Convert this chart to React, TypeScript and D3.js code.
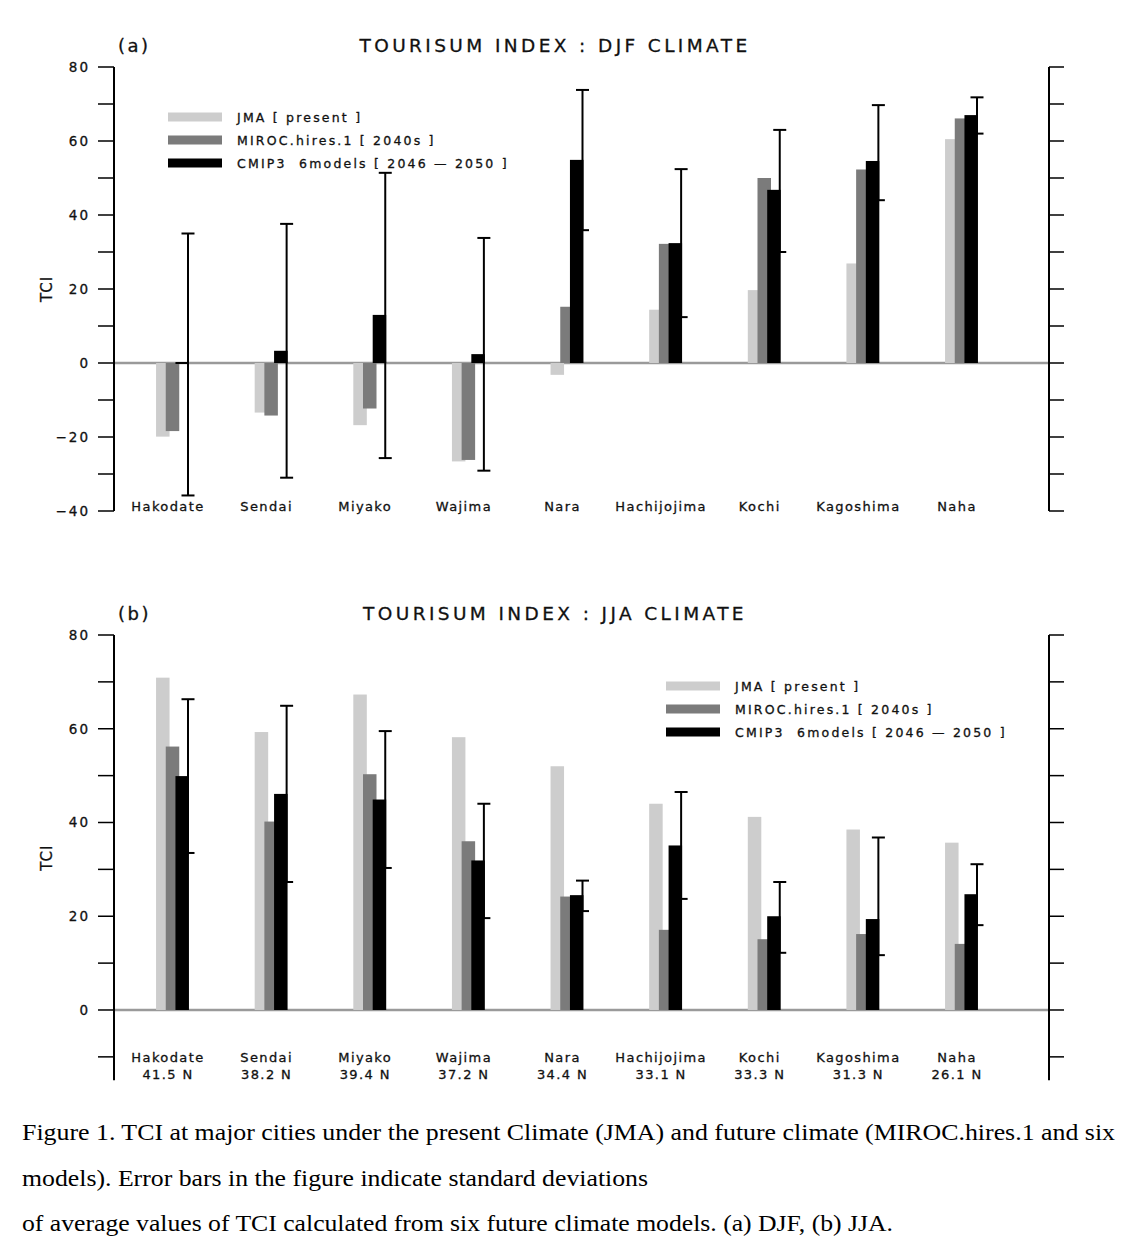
import * as d3 from 'd3'

// ---- data ----
const cities = ['Hakodate', 'Sendai', 'Miyako', 'Wajima', 'Nara', 'Hachijojima', 'Kochi', 'Kagoshima', 'Naha']
const latitudes = ['41.5 N', '38.2 N', '39.4 N', '37.2 N', '34.4 N', '33.1 N', '33.3 N', '31.3 N', '26.1 N']
const seriesNames = ['JMA [ present ]', 'MIROC.hires.1 [ 2040s ]', 'CMIP3  6models [ 2046 \u2014 2050 ]']

// (a) DJF
const djfJma = [-19.9, -13.4, -16.8, -26.6, -3.2, 14.4, 19.7, 26.9, 60.5]
const djfMiroc = [-18.4, -14.2, -12.3, -26.2, 15.2, 32.2, 50.0, 52.3, 66.1]
const djfCmip = [0, 3.3, 13.0, 2.4, 54.9, 32.4, 46.8, 54.6, 67.0]
const djfCmipHigh = [35.0, 37.6, 51.4, 33.8, 73.8, 52.4, 63.0, 69.7, 71.8]
const djfCmipLow = [-35.8, -31.0, -25.7, -29.1, 35.9, 12.4, 30.0, 44.0, 62.0]
const djfTicks = [-40, -30, -20, -10, 0, 10, 20, 30, 40, 50, 60, 70, 80]
const djfTickLabels = [-40, -20, 0, 20, 40, 60, 80]

// (b) JJA
const jjaJma = [70.9, 59.3, 67.3, 58.2, 52.0, 44.0, 41.2, 38.5, 35.7]
const jjaMiroc = [56.2, 40.2, 50.3, 36.0, 24.2, 17.1, 15.1, 16.2, 14.1]
const jjaCmip = [49.9, 46.1, 44.9, 31.9, 24.5, 35.1, 20.0, 19.4, 24.7]
const jjaCmipHigh = [66.3, 64.9, 59.5, 44.0, 27.6, 46.5, 27.3, 36.8, 31.1]
const jjaCmipLow = [33.5, 27.3, 30.3, 19.6, 21.1, 23.7, 12.2, 11.7, 18.1]
const jjaTicks = [-10, 0, 10, 20, 30, 40, 50, 60, 70, 80]
const jjaTickLabels = [0, 20, 40, 60, 80]

const caption = [
  'Figure 1. TCI at major cities under the present Climate (JMA) and future climate (MIROC.hires.1 and six',
  'models). Error bars in the figure indicate standard deviations',
  'of average values of TCI calculated from six future climate models. (a) DJF, (b) JJA.',
]

const colors = ['#cdcdcd', '#7b7b7b', '#000000']
const font = '"DejaVu Sans", sans-serif'
const ink = { fill: '#111', stroke: '#111', strokeWidth: 0.3 }
const AX_L = 114
const AX_R = 1049

interface PanelProps {
  tag: string
  title: string
  jma: number[]
  miroc: number[]
  cmip: number[]
  hi: number[]
  lo: number[]
  domain: [number, number]
  range: [number, number]
  ticks: number[]
  tickLabels: number[]
  titleY: number
  legendX: number
  legendY: number
  labelY: number
  showLat: boolean
}

function Panel(p: PanelProps) {
  const y = d3.scaleLinear().domain(p.domain).range(p.range)
  const x = d3.scalePoint<string>().domain(cities).range([168, 957])
  const y0 = y(0)
  const barW = 13.5
  const offsets = [-5.2, 4.5, 14.2]
  const series = [p.jma, p.miroc, p.cmip]
  const fmt = (v: number) => (v < 0 ? '\u2212' + Math.abs(v) : String(v))

  return (
    <g>
      {/* titles */}
      <text x={118} y={p.titleY} fontFamily={font} fontSize={18} letterSpacing={2.5} {...ink}>{p.tag}</text>
      <text x={555} y={p.titleY} textAnchor="middle" fontFamily={font} fontSize={18.5} letterSpacing={3.4} {...ink}>{p.title}</text>

      {/* zero line */}
      <line x1={AX_L} x2={AX_R} y1={y0} y2={y0} stroke="#9a9a9a" strokeWidth={2.5} />

      {/* bars */}
      {series.map((vals, s) => (
        <g key={s} fill={colors[s]}>
          {vals.map((v, i) => {
            const cx = x(cities[i])! + offsets[s]
            const top = Math.min(y(v), y0)
            const h = Math.max(Math.abs(y(v) - y0), 2)
            return <rect key={i} x={cx - barW / 2} y={v === 0 ? y0 - 1 : top} width={barW} height={h} />
          })}
        </g>
      ))}

      {/* error bars */}
      <g stroke="#000" strokeWidth={2}>
        {p.cmip.map((_, i) => {
          const ex = x(cities[i])! + 20
          return (
            <g key={i}>
              <line x1={ex} x2={ex} y1={y(p.hi[i])} y2={y(p.lo[i])} />
              <line x1={ex - 6.5} x2={ex + 6.5} y1={y(p.hi[i])} y2={y(p.hi[i])} />
              <line x1={ex - 6.5} x2={ex + 6.5} y1={y(p.lo[i])} y2={y(p.lo[i])} />
            </g>
          )
        })}
      </g>

      {/* left axis */}
      <line x1={AX_L} x2={AX_L} y1={p.range[1]} y2={p.range[0]} stroke="#000" strokeWidth={2} />
      {p.ticks.map(t => (
        <line key={t} x1={AX_L - 16} x2={AX_L} y1={y(t)} y2={y(t)} stroke="#000" strokeWidth={1.5} />
      ))}
      {p.tickLabels.map(t => (
        <text key={t} x={90} y={y(t)} dy="0.36em" textAnchor="end" fontFamily={font} fontSize={13.5} letterSpacing={2} {...ink}>
          {fmt(t)}
        </text>
      ))}

      {/* right axis */}
      <line x1={AX_R} x2={AX_R} y1={p.range[1]} y2={p.range[0]} stroke="#000" strokeWidth={2} />
      {p.ticks.map(t => (
        <line key={t} x1={AX_R} x2={AX_R + 15} y1={y(t)} y2={y(t)} stroke="#000" strokeWidth={1.5} />
      ))}

      {/* y label */}
      <text
        transform={`translate(52,${(p.range[0] + p.range[1]) / 2}) rotate(-90)`}
        textAnchor="middle"
        fontFamily={font}
        fontSize={15}
        letterSpacing={1}
        {...ink}
      >
        TCI
      </text>

      {/* city labels */}
      {cities.map((c, i) => (
        <g key={c} fontFamily={font} fontSize={13} letterSpacing={1.4} textAnchor="middle" {...ink}>
          <text x={x(c)!} y={p.labelY}>{c}</text>
          {p.showLat && <text x={x(c)!} y={p.labelY + 17}>{latitudes[i]}</text>}
        </g>
      ))}

      {/* legend */}
      {seriesNames.map((n, s) => (
        <g key={n}>
          <rect x={p.legendX} y={p.legendY + s * 23 - 4.5} width={54} height={9} fill={colors[s]} />
          <text
            x={p.legendX + 69}
            y={p.legendY + s * 23}
            dy="0.36em"
            fontFamily={font}
            fontSize={12.5}
            letterSpacing={2.2}
            style={{ whiteSpace: 'pre' }}
            {...ink}
          >
            {n}
          </text>
        </g>
      ))}
    </g>
  )
}

export default function App() {
  return (
    <svg
      width={1140}
      height={1259}
      style={{ position: 'absolute', left: 0, top: 0, background: '#fff' }}
    >
      <Panel
        tag="(a)"
        title="TOURISUM INDEX : DJF CLIMATE"
        jma={djfJma}
        miroc={djfMiroc}
        cmip={djfCmip}
        hi={djfCmipHigh}
        lo={djfCmipLow}
        domain={[-40, 80]}
        range={[511, 67]}
        ticks={djfTicks}
        tickLabels={djfTickLabels}
        titleY={52}
        legendX={168}
        legendY={117}
        labelY={511}
        showLat={false}
      />
      <Panel
        tag="(b)"
        title="TOURISUM INDEX : JJA CLIMATE"
        jma={jjaJma}
        miroc={jjaMiroc}
        cmip={jjaCmip}
        hi={jjaCmipHigh}
        lo={jjaCmipLow}
        domain={[-15, 80]}
        range={[1080.3, 635]}
        ticks={jjaTicks}
        tickLabels={jjaTickLabels}
        titleY={620}
        legendX={666}
        legendY={686}
        labelY={1062}
        showLat={true}
      />
      {caption.map((line, i) => (
        <text
          key={i}
          x={22}
          y={1140 + i * 45.5}
          fontFamily='"Liberation Serif", "Times New Roman", serif'
          fontSize={24}
          fill="#000"
          textLength={[1093, 626, 871][i]}
          lengthAdjust="spacingAndGlyphs"
        >
          {line}
        </text>
      ))}
    </svg>
  )
}
